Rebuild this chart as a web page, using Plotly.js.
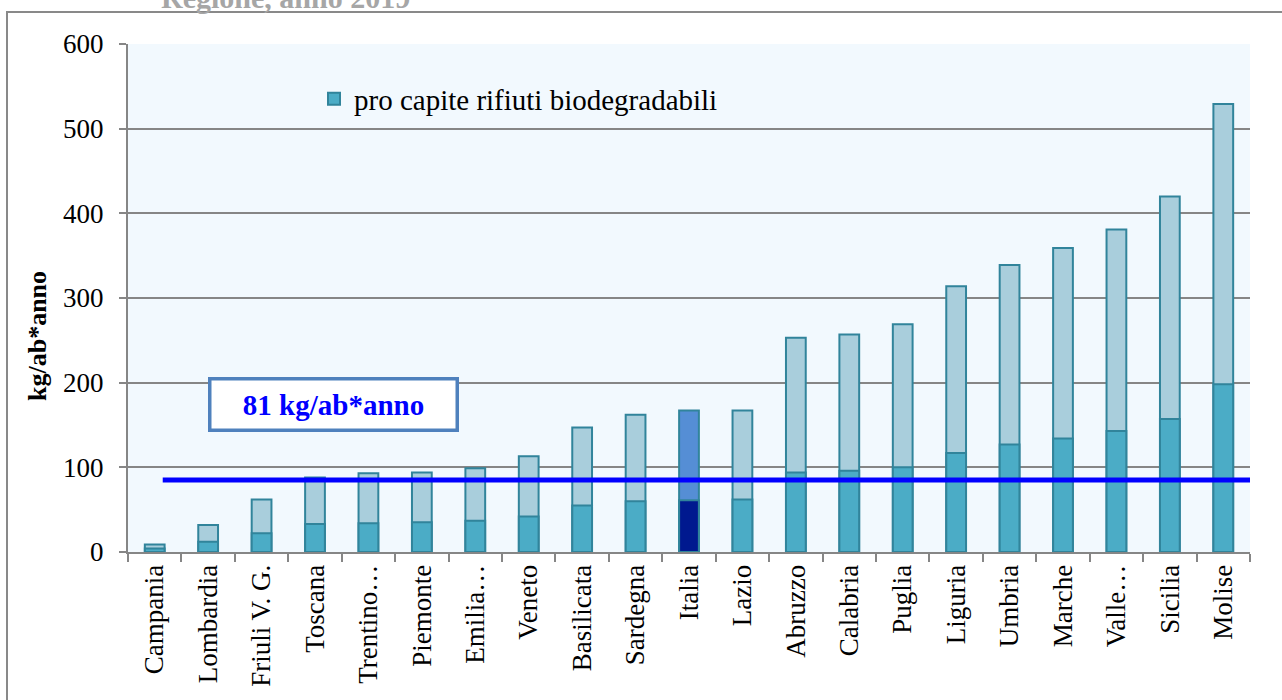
<!DOCTYPE html>
<html>
<head>
<meta charset="utf-8">
<script src="https://cdn.plot.ly/plotly-3.0.1.min.js"></script>
<style>
  html, body { margin: 0; padding: 0; background: #ffffff; }
  #chart { width: 1282px; height: 700px; }
</style>
</head>
<body>
<div id="chart"></div>
<script>
// ---- data ----
const regioni = ["Campania", "Lombardia", "Friuli V. G.", "Toscana", "Trentino…", "Piemonte", "Emilia…",
  "Veneto", "Basilicata", "Sardegna", "Italia", "Lazio", "Abruzzo", "Calabria", "Puglia", "Liguria",
  "Umbria", "Marche", "Valle…", "Sicilia", "Molise"];
const totale = [9, 32, 62, 88, 93, 94, 99, 113, 147, 162, 167, 167, 253, 257, 269, 314, 339, 359, 381, 420, 529];
const biodegradabili = [4, 12, 22, 33, 34, 35, 37, 42, 55, 60, 61, 62, 94, 96, 100, 117, 127, 134, 143, 157, 198];
const soglia = 85;
const sogliaLabel = "81 kg/ab*anno";
const legendLabel = "pro capite rifiuti biodegradabili";
const yTitle = "kg/ab*anno";
const yTicks = [0, 100, 200, 300, 400, 500, 600];
const titolo = "Regione, anno 2019";

// ---- styles ----
const FONT = "'Liberation Serif', 'Times New Roman', serif";
const colBio = "#4BACC6", colTot = "#A9CEDC";
const colBioIt = "#00198F", colTotIt = "#558ED5";
const colEdge = "#31849B";
const grey = "#868686";

const traceTot = {
  type: "bar", x: regioni, y: totale, width: 0.37,
  marker: { color: regioni.map(r => r === "Italia" ? colTotIt : colTot), line: { color: colEdge, width: 2 } },
  showlegend: false, hoverinfo: "x+y"
};
const traceBio = {
  type: "bar", x: regioni, y: biodegradabili, width: 0.37, name: legendLabel,
  marker: { color: regioni.map(r => r === "Italia" ? colBioIt : colBio), line: { color: colEdge, width: 2 } },
  showlegend: true, hoverinfo: "x+y"
};

// pixel helpers for paper coordinates
const L = 128, R = 32, T = 44, B = 148, W = 1282, H = 700;
const pw = W - L - R, ph = H - T - B;
const px = x => (x - L) / pw;
const py = y => (H - B - y) / ph;

const layout = {
  width: W, height: H,
  margin: { l: L, r: R, t: T, b: B, pad: 0 },
  paper_bgcolor: "#ffffff",
  plot_bgcolor: "#F2F9FE",
  barmode: "overlay",
  font: { family: FONT, color: "#000000", size: 27 },
  showlegend: true,
  legend: {
    x: px(314), xanchor: "left", y: py(99), yanchor: "middle",
    bgcolor: "rgba(0,0,0,0)", borderwidth: 0,
    font: { family: FONT, size: 29, color: "#000" },
    itemwidth: 30
  },
  xaxis: {
    type: "category", range: [-0.5, regioni.length - 0.5],
    tickangle: -90, tickfont: { family: FONT, size: 27, color: "#000" },
    ticks: "outside", tickson: "boundaries", ticklen: 8, tickcolor: grey, tickwidth: 2,
    showline: true, linecolor: grey, linewidth: 2,
    showgrid: false, zeroline: false, automargin: false
  },
  yaxis: {
    range: [0, 600], tickvals: yTicks, ticktext: yTicks.map(String),
    tickfont: { family: FONT, size: 27, color: "#000" },
    ticks: "outside", ticklen: 7, tickcolor: grey, tickwidth: 2, ticklabelstandoff: 10,
    showline: true, linecolor: grey, linewidth: 2,
    showgrid: true, gridcolor: grey, gridwidth: 2,
    zeroline: false, automargin: false
  },
  shapes: [
    // outer chart frame (only left and top visible in reference)
    { type: "rect", xref: "paper", yref: "paper", x0: px(7), x1: px(1295), y0: py(12), y1: py(715),
      line: { color: "#898989", width: 2 }, fillcolor: "rgba(0,0,0,0)", layer: "below" },
    // threshold line
    { type: "line", xref: "x", yref: "y", x0: 0.15, x1: regioni.length - 0.5, y0: soglia, y1: soglia,
      line: { color: "#0000FF", width: 5 }, layer: "above" }
  ],
  annotations: [
    { xref: "paper", yref: "paper", x: px(333.5), y: py(404), xanchor: "center", yanchor: "middle",
      text: "<b>" + sogliaLabel + "</b>", showarrow: false,
      font: { family: FONT, size: 29, color: "#0000FF" },
      bgcolor: "#ffffff", bordercolor: "#4F81BD", borderwidth: 3.5, borderpad: 6, width: 232, height: 36 },
    { xref: "paper", yref: "paper", x: px(37), y: py(336), xanchor: "center", yanchor: "middle",
      text: "<b>" + yTitle + "</b>", textangle: -90, showarrow: false,
      font: { family: FONT, size: 26, color: "#000" } },
    { xref: "paper", yref: "paper", x: px(285), y: py(-2), xanchor: "center", yanchor: "middle",
      text: "<b>" + titolo + "</b>", showarrow: false,
      font: { family: FONT, size: 30, color: "#A6A6A6" } }
  ]
};

Plotly.newPlot("chart", [traceTot, traceBio], layout, { displayModeBar: false, staticPlot: true });
</script>
</body>
</html>
